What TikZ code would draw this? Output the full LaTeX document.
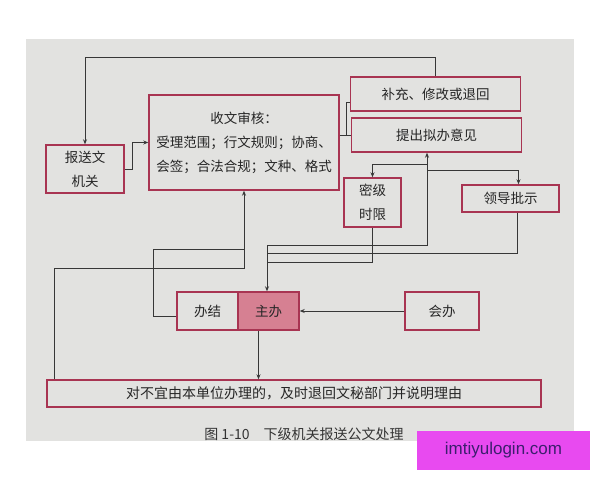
\documentclass[tikz,border=0pt]{standalone}
\usepackage{fontspec}
\setmainfont{Noto Sans CJK SC}
\newfontfamily\wmfont{Liberation Sans}
\usetikzlibrary{arrows.meta}
\definecolor{boxred}{RGB}{168,52,82}
\definecolor{zbpink}{RGB}{214,128,146}
\definecolor{paper}{RGB}{226,226,224}
\definecolor{wire}{RGB}{55,55,55}
\definecolor{wmpink}{RGB}{232,74,240}
\definecolor{wmtext}{RGB}{60,30,110}

\begin{document}
\begin{tikzpicture}[x=1pt,y=-1pt]
				\tikzstyle{box}=[draw=boxred,line width=1.4pt,inner sep=0pt,align=center,text=black!85,font=\fontsize{13.5}{24}\selectfont]
				\tikzstyle{link}=[draw=wire,line width=0.95pt]
				\tikzstyle{arr}=[link,-{Stealth[length=5pt,width=4pt]}]
				\useasboundingbox (0,0) rectangle (600,480);
				\fill[paper] (26,39) rectangle (574,441);
				\node[box,minimum width=78pt,minimum height=48pt](bs) at (85,169){报送文\\机关};
				\node[box,minimum width=190pt,minimum height=95pt](sw) at (244,142.5){收文审核：\\受理范围；行文规则；协商、\\会签；合法合规；文种、格式};
				\node[box,minimum width=170pt,minimum height=34pt](bc) at (435.5,94){补充、修改或退回};
				\node[box,minimum width=170pt,minimum height=34pt](tc) at (436.5,135){提出拟办意见};
				\node[box,minimum width=57pt,minimum height=49pt](mj) at (372.5,202.5){密级\\时限};
				\node[box,minimum width=97pt,minimum height=27pt](ld) at (510.5,198.5){领导批示};
				\node[box,minimum width=61pt,minimum height=38pt](bj) at (207.5,311){办结};
				\node[box,fill=zbpink,minimum width=61pt,minimum height=38pt](zb) at (268.5,311){主办};
				\node[box,minimum width=74pt,minimum height=38pt](hb) at (442,311){会办};
				\node[box,minimum width=494pt,minimum height=27pt,font=\fontsize{14}{14}\selectfont](th) at (294,393.5){对不宜由本单位办理的，及时退回文秘部门并说明理由};
				\node[text=black!80,font=\fontsize{14}{14}\selectfont](cap) at (304,434){图 1-10\quad 下级机关报送公文处理};
				\node[fill=wmpink,minimum width=173pt,minimum height=39pt,inner sep=0pt,text=wmtext,font=\wmfont\fontsize{17}{17}\selectfont](wm) at (503.5,450.5){imtiyulogin.com};
				\coordinate (fk) at (346,135);
				\coordinate (sp) at (427,245);
				\coordinate (jz) at (267,245);
				\coordinate (jb) at (244,268);
				\coordinate (jc) at (153,249);
				\coordinate (m1) at (427,164);
				\coordinate (l1) at (427,170);
				\coordinate (m2) at (267,262);
				\coordinate (l2) at (267,253);
				\draw[arr] (bc.north) -- ++(0,-19) -| (bs.north);
				\draw[arr] (bs.east) -- ++(8,0) |- (sw.west);
				\draw[link] (sw.east |- fk) -- (tc.west |- fk);
				\draw[link] (fk) |- ([yshift=-8pt]bc.west);
				\draw[arr] (jz) -- (sp) -- (sp |- tc.south);
				\draw[arr] (jz) -- (jz |- zb.north);
				\draw[arr] (m1) -| (mj.north);
				\draw[arr] (l1) -| ([xshift=8pt]ld.north);
				\draw[link] (mj.south) |- (m2);
				\draw[link] ([xshift=7pt]ld.south) |- (l2);
				\draw[arr] ([xshift=8pt]th.north west) |- (jb) -- (sw.south);
				\draw[link] ([yshift=-5pt]bj.west) -| (jc) -- (jc -| sw.south);
				\draw[arr] (hb.west) -- (zb.east);
				\draw[arr] ([xshift=-10pt]zb.south) -- ([xshift=-10pt]zb.south |- th.north);
			\end{tikzpicture}
\end{document}
